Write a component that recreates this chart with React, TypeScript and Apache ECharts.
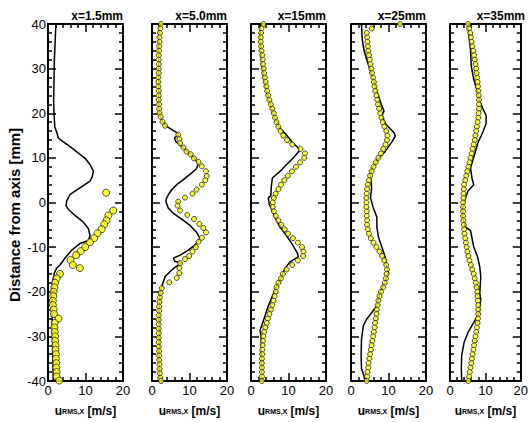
import React, { useEffect, useRef } from 'react';
import * as echarts from 'echarts';

const titles = ['x=1.5mm', 'x=5.0mm', 'x=15mm', 'x=25mm', 'x=35mm'];
const xMin = 0, xMax = 20, xStep = 10;
const yMin = -40, yMax = 40, yStep = 10;

// experimental data [u_rms (m/s), distance (mm)]
const exp1: number[][] = [
  [15.5, 2.2], [17.4, -1.8], [16.1, -2.9], [15.6, -4.0], [15.0, -4.9], [14.3, -6.0], [13.2, -6.9], [12.3, -8.0],
  [11.2, -8.9], [9.9, -10.0], [8.7, -10.9], [7.5, -11.8], [6.0, -12.9], [6.6, -14.0], [8.5, -14.7], [3.2, -16.0],
  [2.3, -17.0], [1.9, -18.0], [1.7, -19.0], [1.5, -20.0], [1.4, -21], [1.3, -22], [1.3, -23], [1.5, -24], [1.6, -25],
  [2.8, -26], [1.8, -27], [1.7, -28], [1.8, -29], [1.9, -30], [1.9, -31], [2.0, -32], [2.0, -33], [2.1, -34],
  [2.1, -35], [2.2, -36], [2.2, -37], [2.3, -38], [2.3, -39], [3.0, -39.9],
];
const exp2: number[][] = [
  [2.4, 40], [2.2, 39], [2.1, 38], [2.0, 37], [2.0, 36], [1.9, 35], [1.9, 34], [1.8, 33], [1.8, 32], [1.8, 31],
  [1.8, 30], [1.8, 29], [1.7, 28], [1.7, 27], [1.7, 26], [1.8, 25], [1.8, 24], [1.8, 23], [1.9, 22], [1.9, 21],
  [2.0, 20], [2.3, 19.2], [2.8, 18.1], [3.5, 17.2], [7.0, 15.2], [7.3, 14.2], [7.5, 13.3], [8.4, 12.3], [9.2, 11.4],
  [10.3, 10.8], [11.2, 9.9], [12.4, 9.1], [13.3, 8.1], [14.4, 7.0], [14.6, 5.9], [14.2, 5.0], [13.3, 4.0],
  [11.9, 2.9], [10.8, 2.0], [8.8, 1.1], [7.0, 0.2], [6.8, -0.7], [7.5, -1.8], [9.4, -2.8], [11.2, -3.7],
  [12.6, -4.8], [13.7, -5.7], [14.4, -6.7], [13.3, -7.9], [12.4, -8.8], [11.7, -10.0], [10.8, -11.0], [9.9, -12.0],
  [8.8, -12.7], [7.5, -13.6], [7.3, -14.7], [7.3, -15.8], [6.6, -16.9], [4.6, -17.9], [2.6, -19.2], [2.3, -20.3],
  [2.1, -21.3], [2.0, -22.3], [1.9, -23.3], [1.9, -24.3], [1.8, -25.3], [1.8, -26.3], [1.8, -27.3], [1.8, -28.3],
  [1.8, -29.3], [1.8, -30.3], [1.8, -31.3], [1.8, -32.3], [1.9, -33.3], [1.9, -34.3], [1.9, -35.3], [2.0, -36.3],
  [2.0, -37.3], [2.1, -38.3], [2.2, -39.3], [2.4, -40],
];
const exp3: number[][] = [
  [3.3, 40], [2.8, 39], [2.7, 38], [2.6, 37], [2.6, 36], [2.7, 35], [2.8, 34], [3.0, 33], [3.1, 32], [3.2, 31],
  [3.4, 30], [3.5, 29], [3.7, 28], [3.9, 27], [4.1, 26], [4.3, 25], [4.6, 24], [4.9, 23], [5.3, 22], [5.7, 21],
  [6.1, 20], [6.4, 19], [6.8, 18], [7.3, 17], [7.9, 16], [8.6, 15], [9.6, 14], [11.0, 13], [13.2, 12], [14.4, 11],
  [14.2, 10], [13.1, 9], [12.0, 8], [10.9, 7], [9.8, 6], [8.9, 5], [8.0, 4], [7.3, 3], [6.6, 2], [6.1, 1],
  [5.8, 0], [5.8, -1], [6.1, -2], [6.6, -3], [7.3, -4], [8.1, -5], [9.0, -6], [9.9, -7], [11.2, -8], [12.5, -9],
  [13.6, -10], [14.0, -11], [13.9, -12], [12.5, -13], [11.0, -14], [9.5, -15], [8.5, -16], [8.0, -17], [7.3, -18],
  [6.8, -19], [6.6, -20], [6.3, -21], [6.0, -22], [5.7, -23], [5.3, -24], [4.9, -25], [4.5, -26], [4.2, -27],
  [3.8, -28], [3.5, -29], [3.3, -30], [3.2, -31], [3.1, -32], [3.0, -33], [3.0, -34], [2.9, -35], [2.9, -36],
  [2.9, -37], [2.9, -38], [2.9, -39], [2.9, -40],
];
const exp4: number[][] = [
  [13.1, 40], [5.5, 39], [4.2, 38], [4.3, 37], [4.4, 36], [4.5, 35], [4.6, 34], [4.8, 33], [5.0, 32], [5.2, 31],
  [5.4, 30], [5.6, 29], [5.9, 28], [6.1, 27], [6.3, 26], [6.5, 25], [6.8, 24], [7.0, 23], [7.2, 22], [7.5, 21],
  [7.8, 20], [8.1, 19], [8.5, 18], [8.9, 17], [9.4, 16], [9.7, 15], [9.6, 14], [9.2, 13], [8.6, 12], [8.0, 11],
  [7.3, 10], [6.6, 9], [6.0, 8], [5.5, 7], [5.1, 6], [4.8, 5], [4.5, 4], [4.3, 3], [4.2, 2], [4.1, 1], [4.1, 0],
  [4.1, -1], [4.2, -2], [4.2, -3], [4.3, -4], [4.3, -5], [4.5, -6], [4.8, -7], [5.3, -8], [6.0, -9], [6.8, -10],
  [7.6, -11], [8.3, -12], [8.9, -13], [9.4, -14], [9.6, -15], [9.5, -16], [9.3, -17], [9.0, -18], [8.6, -19],
  [8.0, -20], [7.6, -21], [7.3, -22], [7.1, -23], [6.9, -24], [6.8, -25], [6.6, -26], [6.4, -27], [6.3, -28],
  [6.1, -29], [5.9, -30], [5.7, -31], [5.5, -32], [5.3, -33], [5.1, -34], [4.9, -35], [4.7, -36], [4.6, -37],
  [4.4, -38], [4.3, -39], [4.2, -40],
];
const exp5: number[][] = [
  [5.1, 40], [5.4, 39], [5.7, 38], [5.9, 37], [6.1, 36], [6.3, 35], [6.6, 34], [6.8, 33], [7.0, 32], [7.2, 31],
  [7.4, 30], [7.5, 29], [7.7, 28], [7.8, 27], [7.9, 26], [8.0, 25], [8.1, 24], [8.2, 23], [8.2, 22], [8.2, 21],
  [8.1, 20], [8.0, 19], [7.8, 18], [7.6, 17], [7.4, 16], [7.2, 15], [7.0, 14], [6.7, 13], [6.4, 12], [6.1, 11],
  [5.8, 10], [5.5, 9], [5.2, 8], [4.9, 7], [4.6, 6], [4.3, 5], [4.0, 4], [3.9, 3], [3.8, 2], [3.8, 1], [3.7, 0],
  [3.7, -1], [3.7, -2], [3.7, -3], [3.8, -4], [3.9, -5], [4.0, -6], [4.1, -7], [4.3, -8], [4.5, -9], [4.7, -10],
  [4.9, -11], [5.2, -12], [5.5, -13], [5.9, -14], [6.3, -15], [6.7, -16], [7.0, -17], [7.3, -18], [7.5, -19],
  [7.7, -20], [7.8, -21], [7.9, -22], [8.0, -23], [8.0, -24], [8.0, -25], [7.9, -26], [7.8, -27], [7.6, -28],
  [7.4, -29], [7.2, -30], [7.0, -31], [6.8, -32], [6.6, -33], [6.4, -34], [6.2, -35], [6.0, -36], [5.8, -37],
  [5.6, -38], [5.4, -39], [5.2, -40],
];

// simulation profiles [u_rms (m/s), distance (mm)]
const sim1: number[][] = [
  [2.1, 40], [1.9, 36], [1.7, 32], [1.6, 27], [1.5, 23.2], [1.6, 20], [1.8, 17], [2.3, 15.8], [2.8, 14.4],
  [4.1, 13.6], [5.9, 12.5], [7.6, 11.4], [9.9, 9.9], [11.2, 8.5], [12.1, 7.0], [11.8, 5.8], [11.2, 4.8],
  [8.5, 3.3], [5.9, 1.8], [5.0, 0.4], [4.8, -0.7], [5.4, -1.5], [7.2, -2.9], [9.4, -4.4], [10.8, -5.9],
  [11.2, -7.4], [10.8, -8.5], [8.5, -9.2], [6.3, -10.7], [4.5, -12.5], [3.2, -14.0], [2.3, -14.7], [1.7, -15.8],
  [1.2, -18], [1.0, -21], [1.1, -25], [1.2, -30], [1.3, -35], [1.4, -40],
];
const sim2: number[][] = [
  [1.8, 40], [1.8, 30], [1.8, 22], [2.0, 20], [2.5, 18.5], [3.5, 17.3], [5.5, 16.2], [7.3, 15.3], [6.0, 14.5],
  [6.3, 13.7], [7.5, 12.9], [9.2, 11.6], [11.0, 10.2], [12.4, 8.8], [11.8, 7.5], [10.1, 6.3], [8.2, 5.0],
  [6.6, 4.0], [5.2, 2.8], [4.4, 1.8], [3.8, 0.8], [3.7, 0.2], [4.3, -1.2], [5.8, -2.5], [8.0, -3.8], [10.2, -5.2],
  [11.8, -6.6], [12.8, -8.0], [11.5, -9.5], [9.5, -10.8], [7.5, -11.8], [5.7, -12.5], [6.1, -13.2], [7.9, -13.5],
  [6.0, -14.6], [4.8, -15.5], [3.5, -16.6], [2.6, -18.8], [2.1, -20.5], [1.9, -25], [1.9, -30], [1.9, -35], [2.0, -40],
];
const sim3: number[][] = [
  [2.5, 40], [2.4, 37], [2.6, 34], [2.9, 31], [3.4, 28], [4.0, 25.5], [4.8, 23], [5.6, 20.8], [6.4, 18.8],
  [7.7, 16.6], [9.1, 15.5], [10.9, 13.6], [12.6, 12.2], [12.9, 11.6], [11.5, 10.2], [9.5, 8.5], [7.5, 6.8],
  [5.7, 5.5], [5.4, 3.5], [5.3, 1.5], [4.6, 1.1], [4.9, -0.5], [5.3, -1.1], [6.4, -3.3], [7.7, -5.5], [9.1, -7.0],
  [10.9, -9.2], [12.4, -11.4], [12.6, -12.2], [10.4, -13.3], [9.1, -14.7], [8.2, -16.6], [6.8, -18.8], [5.5, -21.4],
  [4.6, -23.2], [3.3, -26.5], [2.4, -28.7], [2.7, -30], [2.8, -33], [2.8, -36], [2.9, -40],
];
const sim4: number[][] = [
  [2.8, 40], [2.9, 38], [3.0, 36.5], [3.5, 34], [4.2, 32], [5.1, 29.8], [6.2, 26.9], [7.3, 23.9], [8.2, 21.7],
  [8.8, 20.5], [8.3, 19.5], [9.1, 17.7], [10.4, 16.6], [11.6, 15.5], [11.8, 14.8], [10.9, 13.6], [9.1, 11.4],
  [7.3, 9.9], [5.9, 8.1], [5.1, 6.3], [5.4, 4.5], [5.5, 3.3], [5.2, 1.1], [5.9, -1.1], [6.4, -2.2], [6.9, -3.3],
  [6.9, -5.5], [7.3, -7.7], [8.2, -9.9], [9.1, -12.2], [9.5, -14.4], [10.0, -15.8], [8.9, -18], [7.7, -20.3],
  [6.9, -23.2], [5.5, -24.7], [4.2, -26.1], [3.3, -27.6], [2.8, -30.6], [2.7, -34.3], [2.8, -37.2], [3.5, -39], [3.7, -40],
];
const sim5: number[][] = [
  [5.0, 40], [5.3, 37.9], [5.8, 34.3], [6.0, 30.6], [6.7, 27.6], [7.8, 24.7], [8.2, 23.2], [9.3, 21], [10.2, 19.5],
  [10.2, 17.7], [9.3, 15.8], [8.0, 13.6], [6.9, 10.7], [5.8, 7.7], [6.2, 5.5], [6.7, 4.0], [5.1, 2.6], [4.4, 1.1],
  [3.6, -1.1], [3.6, -3.3], [4.4, -5.5], [5.8, -6.3], [6.7, -9.9], [7.8, -12.2], [8.4, -14.4], [8.7, -16.6],
  [8.4, -20.3], [8.7, -21.7], [8.2, -24.7], [6.7, -26.9], [5.1, -29.1], [4.0, -31.3], [3.3, -34.3], [3.2, -37.2], [3.3, -40],
];

const expSets = [exp1, exp2, exp3, exp4, exp5];
const simSets = [sim1, sim2, sim3, sim4, sim5];

const FONT = "'Liberation Sans', Arial, sans-serif";
const lefts = [48, 152, 251, 351, 450];
const gridTop = 24;
const gridW = 75;
const gridH = 362;

export default function App() {
  const ref = useRef<HTMLDivElement>(null);
  useEffect(() => {
    const chart = echarts.init(ref.current!, null, { renderer: 'svg' });
    const tk = () => ({ show: true, inside: true, length: 8, lineStyle: { color: '#000', width: 1.5 } });
    const mk = () => ({ show: true, splitNumber: 5, length: 4, lineStyle: { color: '#000', width: 1.5 } });
    const al = () => ({ show: true, onZero: false, lineStyle: { color: '#000', width: 2 } });
    const grids: any[] = [];
    const xAxes: any[] = [];
    const yAxes: any[] = [];
    const series: any[] = [];
    const graphics: any[] = [];
    for (let i = 0; i < 5; i++) {
      grids.push({ left: lefts[i], top: gridTop, width: gridW, height: gridH });
      xAxes.push({
        type: 'value', gridIndex: i, position: 'bottom', min: xMin, max: xMax, interval: xStep,
        axisLine: al(), axisTick: tk(), minorTick: mk(), splitLine: { show: false },
        axisLabel: { show: true, color: '#000', fontSize: 13, fontFamily: FONT, margin: 3 },
        name: '{u|u}{s|RMS,X}{b| [m/s]}', nameLocation: 'middle', nameGap: 24,
        nameTextStyle: {
          rich: {
            u: { fontSize: 12, fontWeight: 'bold', fontFamily: FONT, color: '#000' },
            s: { fontSize: 7, fontWeight: 'bold', fontFamily: FONT, color: '#000' },
            b: { fontSize: 12, fontWeight: 'bold', fontFamily: FONT, color: '#000' },
          },
        },
      });
      xAxes.push({
        type: 'value', gridIndex: i, position: 'top', min: xMin, max: xMax, interval: xStep,
        axisLine: al(), axisTick: tk(), minorTick: mk(), splitLine: { show: false }, axisLabel: { show: false },
      });
      yAxes.push({
        type: 'value', gridIndex: i, position: 'left', min: yMin, max: yMax, interval: yStep,
        axisLine: al(), axisTick: tk(), minorTick: mk(), splitLine: { show: false },
        axisLabel: { show: i === 0, color: '#000', fontSize: 13, fontFamily: FONT, margin: 2 },
      });
      yAxes.push({
        type: 'value', gridIndex: i, position: 'right', min: yMin, max: yMax, interval: yStep,
        axisLine: al(), axisTick: tk(), minorTick: mk(), splitLine: { show: false }, axisLabel: { show: false },
      });
      series.push({
        type: 'line', xAxisIndex: 2 * i, yAxisIndex: 2 * i, data: simSets[i], showSymbol: false, symbol: 'none',
        lineStyle: { color: '#000', width: 1.5 }, z: 2, clip: false,
      });
      series.push({
        type: 'scatter', xAxisIndex: 2 * i, yAxisIndex: 2 * i, data: expSets[i],
        symbolSize: i === 0 ? 7 : 5, clip: false,
        itemStyle: { color: '#ffff00', borderColor: '#222', borderWidth: 1 }, z: 3,
      });
      graphics.push({
        type: 'text', x: lefts[i] + gridW, y: 16,
        style: { text: titles[i], textAlign: 'right', textVerticalAlign: 'middle', fontSize: 12, fontWeight: 'bold', fontFamily: FONT, fill: '#000' },
      });
    }
    graphics.push({
      type: 'text', x: 14, y: 215, rotation: Math.PI / 2,
      style: { text: 'Distance from axis [mm]', textAlign: 'center', textVerticalAlign: 'middle', fontSize: 15, fontWeight: 'bold', fontFamily: FONT, fill: '#000' },
    });
    chart.setOption({
      animation: false,
      grid: grids,
      xAxis: xAxes,
      yAxis: yAxes,
      series,
      graphic: graphics,
    });
    return () => chart.dispose();
  }, []);
  return <div ref={ref} style={{ position: 'absolute', left: 0, top: 0, width: 531, height: 422, background: '#fff' }} />;
}
